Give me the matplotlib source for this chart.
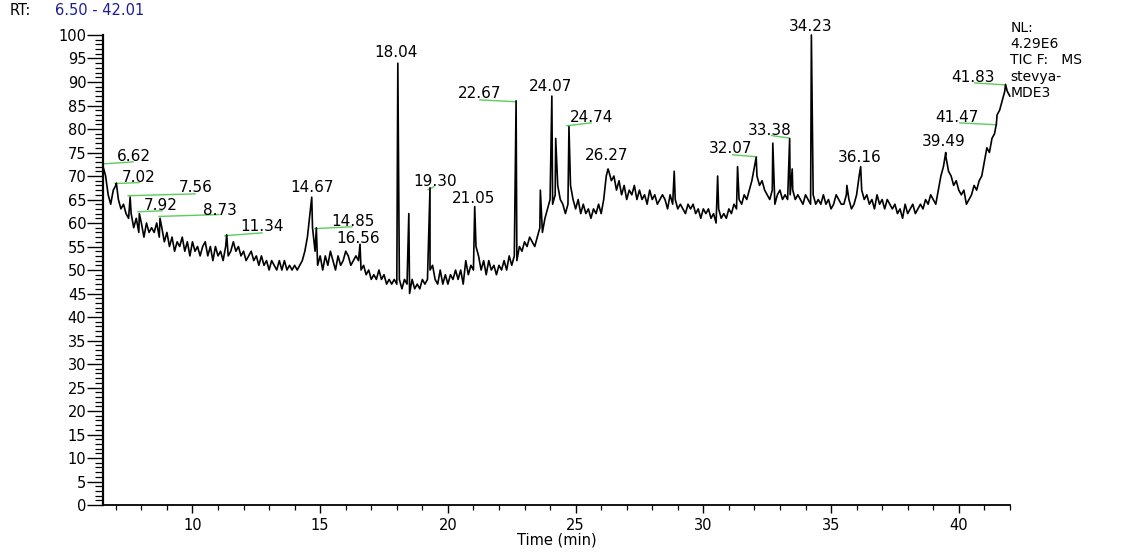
import numpy as np
import matplotlib
matplotlib.use("Agg")
import matplotlib.pyplot as plt
from matplotlib.ticker import MultipleLocator

plt.rcParams["font.family"] = ["DejaVu Sans"]

# ── 色谱数据（相对丰度 %，每 0.1 min 一个点，6.5 – 42.0 min）──
RT_START = 6.5
RT_STEP = 0.1
base_abund = [
    72, 70, 66, 64, 67, 68, 65, 63, 64, 62,
    61, 62, 59, 61, 58, 60, 57, 60, 58, 59,
    58, 60, 57, 59, 56, 58, 55, 57, 54, 56,
    55, 57, 54, 56, 53, 56, 54, 55, 53, 55,
    56, 53, 55, 52, 55, 53, 54, 52, 55, 53,
    54, 56, 54, 55, 53, 54, 52, 53, 54, 52,
    53, 51, 53, 51, 52, 50, 52, 51, 50, 52,
    50, 52, 50, 51, 50, 51, 50, 51, 52, 54,
    57, 62, 59, 54, 51, 53, 50, 53, 51, 54,
    52, 50, 53, 51, 52, 54, 53, 51, 52, 53,
    52, 50, 51, 49, 50, 48, 49, 48, 50, 48,
    49, 47, 48, 47, 48, 47, 48, 46, 48, 47,
    45, 48, 46, 47, 46, 48, 47, 48, 50, 51,
    48, 47, 50, 47, 49, 47, 49, 48, 50, 48,
    50, 47, 52, 49, 51, 50, 55, 53, 50, 52,
    49, 52, 50, 51, 49, 51, 50, 52, 50, 53,
    51, 53, 52, 55, 54, 56, 55, 57, 56, 55,
    57, 59, 58, 61, 63, 65, 64, 66, 68, 65,
    64, 62, 64, 68, 65, 63, 65, 62, 64, 62,
    63, 61, 63, 62, 64, 62, 65, 70, 71, 69,
    70, 67, 69, 66, 68, 65, 67, 66, 68, 65,
    67, 65, 66, 64, 67, 65, 66, 64, 65, 66,
    65, 63, 66, 64, 65, 63, 64, 63, 62, 64,
    63, 64, 62, 63, 61, 63, 62, 63, 61, 62,
    60, 63, 61, 62, 61, 63, 62, 64, 63, 65,
    64, 66, 65, 67, 69, 72, 70, 68, 69, 67,
    66, 65, 67, 64, 66, 67, 65, 66, 65, 66,
    67, 65, 66, 65, 64, 66, 65, 64, 66, 64,
    65, 64, 66, 64, 65, 63, 64, 66, 65, 64,
    64, 66, 65, 63, 64, 66, 70, 67, 65, 66,
    64, 65, 63, 66, 64, 65, 63, 65, 64, 63,
    64, 62, 63, 61, 64, 62, 63, 64, 62, 63,
    64, 63, 65, 64, 66, 65, 64, 67, 70, 72,
    74, 71, 70, 68, 69, 67, 66, 67, 64, 65,
    66, 68, 67, 69, 70, 73, 76, 75, 78, 79,
    83, 84, 86, 88, 88, 87,
]

# 尖峰（保留时间, 相对丰度）
spike_rt = [7.02, 7.56, 7.92, 8.73, 11.34, 14.67, 14.85, 16.56, 18.04, 18.47,
            19.30, 21.05, 22.67, 23.62, 24.07, 24.22, 24.74, 26.27, 28.86, 30.56,
            31.34, 32.07, 32.72, 33.38, 33.48, 34.23, 35.62, 36.16, 39.49, 41.47,
            41.83]
spike_abund = [68.5, 65.5, 62, 61, 57.5, 65.5, 59, 55.5, 94, 62,
               67.5, 63.5, 86, 67, 87, 78, 80.5, 71.5, 71, 70,
               72, 74, 77, 78, 71.5, 100, 68, 72, 75, 81,
               89.5]

# 峰标注
peak_labels = ["6.62", "7.02", "7.56", "7.92", "8.73", "11.34", "14.67", "14.85",
               "16.56", "18.04", "19.30", "21.05", "22.67", "24.07", "24.74",
               "26.27", "32.07", "33.38", "34.23", "36.16", "39.49", "41.47", "41.83"]
label_xy = [(7.71, 73.2), (7.89, 68.8), (10.14, 66.5), (8.77, 62.8), (11.08, 61.8),
            (12.72, 58.2), (14.68, 66.5), (16.28, 59.4), (16.50, 55.8), (17.96, 95.3),
            (19.51, 67.9), (21.01, 64.3), (21.23, 86.6), (24.01, 88.1), (25.61, 81.5),
            (26.22, 73.5), (31.07, 74.9), (32.60, 78.8), (34.20, 100.8), (36.12, 73.0),
            (39.40, 76.4), (39.93, 81.5), (40.54, 90.0)]
# 绿色引线
leaders = [((6.54, 72.6), (7.67, 73.0)), ((6.97, 68.4), (7.91, 68.6)),
           ((7.48, 65.8), (10.10, 66.2)), ((7.87, 62.4), (8.81, 62.6)),
           ((8.69, 61.4), (11.04, 61.8)), ((11.27, 57.3), (12.72, 57.9)),
           ((14.79, 58.8), (16.24, 59.2)), ((19.22, 67.1), (19.45, 67.7)),
           ((21.25, 86.2), (22.66, 85.8)), ((24.66, 80.7), (25.60, 81.3)),
           ((31.15, 74.5), (32.09, 74.1)), ((32.67, 78.6), (33.34, 78.1)),
           ((40.03, 81.3), (41.48, 80.9)), ((40.62, 89.8), (41.79, 89.4))]


def build_trace():
    rt = RT_START + RT_STEP * np.arange(len(base_abund))
    t = np.concatenate([rt, spike_rt])
    a = np.concatenate([base_abund, spike_abund])
    order = np.argsort(t)
    return t[order], a[order]


fig = plt.figure(figsize=(11.3, 5.52), dpi=100)
ax = fig.add_axes([0.0912, 0.0851, 0.8027, 0.8515])

t, a = build_trace()
ax.plot(t, a, color="black", lw=1.2, clip_on=False, zorder=3)

for (x0, y0), (x1, y1) in leaders:
    ax.plot([x0, x1], [y0, y1], color="#5ccc5c", lw=1.0, zorder=2)
for txt, (x, y) in zip(peak_labels, label_xy):
    ax.text(x, y, txt, ha="center", va="baseline", fontsize=11, zorder=4)

ax.set_xlim(6.5, 42.01)
ax.set_ylim(0, 100)
for s in ["top", "right"]:
    ax.spines[s].set_visible(False)
ax.spines["left"].set_linewidth(1.6)
ax.spines["bottom"].set_linewidth(1.3)

ax.xaxis.set_major_locator(MultipleLocator(5))
ax.xaxis.set_minor_locator(MultipleLocator(1))
ax.yaxis.set_major_locator(MultipleLocator(5))
ax.yaxis.set_minor_locator(MultipleLocator(1))
ax.tick_params(axis="y", which="major", length=11.5, width=1.0, pad=0.5, labelsize=10.5)
ax.tick_params(axis="y", which="minor", length=5.8, width=0.9)
ax.tick_params(axis="x", which="major", length=6, width=1.0, pad=3, labelsize=10.5)
ax.tick_params(axis="x", which="minor", length=3.8, width=0.9)
ax.set_xlabel("Time (min)", fontsize=10.5, labelpad=0)

fig.text(0.0088, 0.973, "RT:", fontsize=10.5, va="baseline")
fig.text(0.0487, 0.973, "6.50 - 42.01", fontsize=10.5, va="baseline", color="#1c1c9c")
fig.text(0.894, 0.962, "NL:\n4.29E6\nTIC F:   MS\nstevya-\nMDE3",
         fontsize=10, va="top", ha="left", linespacing=1.2)

fig.savefig("out.png", dpi=100, facecolor="white")
